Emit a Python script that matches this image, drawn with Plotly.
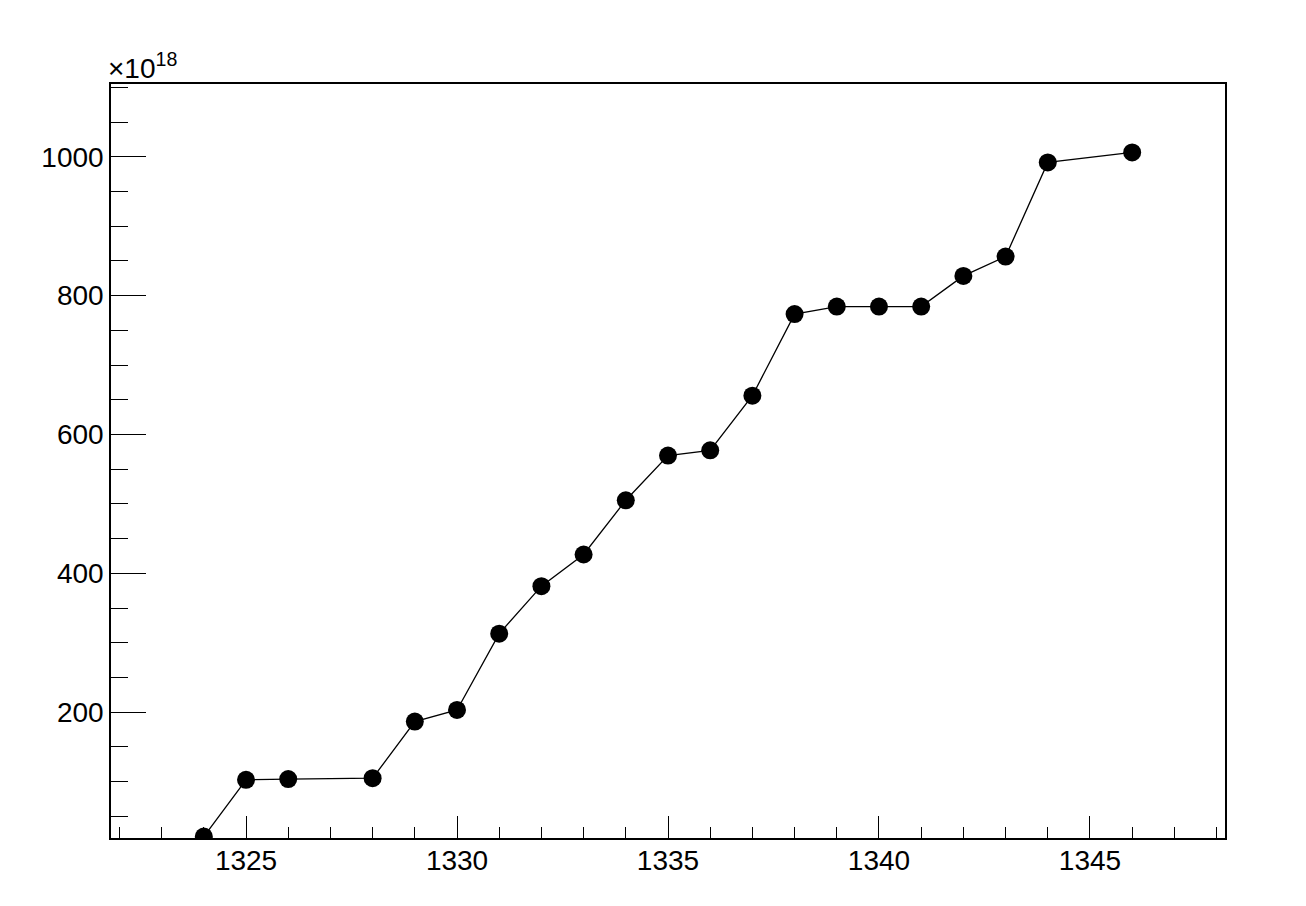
import plotly.graph_objects as go

# Data (y in units of 10^18)
x_vals = [1324, 1325, 1326, 1328, 1329, 1330, 1331, 1332, 1333, 1334, 1335,
          1336, 1337, 1338, 1339, 1340, 1341, 1342, 1343, 1344, 1346]
y_vals = [21, 102.7, 103.7, 105, 186.6, 203.3, 313.2, 381.6, 427.2, 505.3, 569.6,
          577.2, 655.9, 773.4, 784.3, 784.3, 784.3, 828.4, 856.2, 991.9, 1006.3]
y_exponent_label = "×10<sup>18</sup>"

x_range = [1321.8, 1348.2]
y_range = [18.9, 1104.8]

fig = go.Figure()
fig.add_trace(go.Scatter(
    x=x_vals, y=y_vals, mode="lines+markers",
    line=dict(color="black", width=1.3),
    marker=dict(color="black", size=18),
    showlegend=False,
))

font = dict(family="Liberation Sans, Arial, Helvetica, sans-serif", size=28, color="black")

fig.update_layout(
    width=1306, height=906,
    margin=dict(l=103, r=89, t=76, b=76),
    paper_bgcolor="white", plot_bgcolor="white",
    font=font,
)
fig.update_xaxes(
    range=x_range, showgrid=False, zeroline=False,
    showline=True, linecolor="black", linewidth=1.5, mirror=True,
    ticks="inside", ticklen=22, tickwidth=1.3, tickcolor="black",
    tick0=1325, dtick=5, tickfont=font, ticklabelstandoff=-3,
    minor=dict(ticks="inside", ticklen=11, dtick=1, tick0=1325, tickwidth=1.3, tickcolor="black", showgrid=False),
)
fig.update_yaxes(
    range=y_range, showgrid=False, zeroline=False,
    showline=True, linecolor="black", linewidth=1.5, mirror=True,
    ticks="inside", ticklen=35, tickwidth=1.3, tickcolor="black",
    tick0=0, dtick=200, tickfont=font, ticklabelstandoff=0,
    minor=dict(ticks="inside", ticklen=17, dtick=50, tick0=0, tickwidth=1.3, tickcolor="black", showgrid=False),
)
fig.add_annotation(
    text=y_exponent_label, xref="paper", yref="paper", x=0, y=1,
    xanchor="left", yanchor="bottom", showarrow=False,
    xshift=-5, yshift=-2,
    font=dict(family="Liberation Sans, Arial, Helvetica, sans-serif", size=28, color="black"),
)

fig.write_html("out.html")
